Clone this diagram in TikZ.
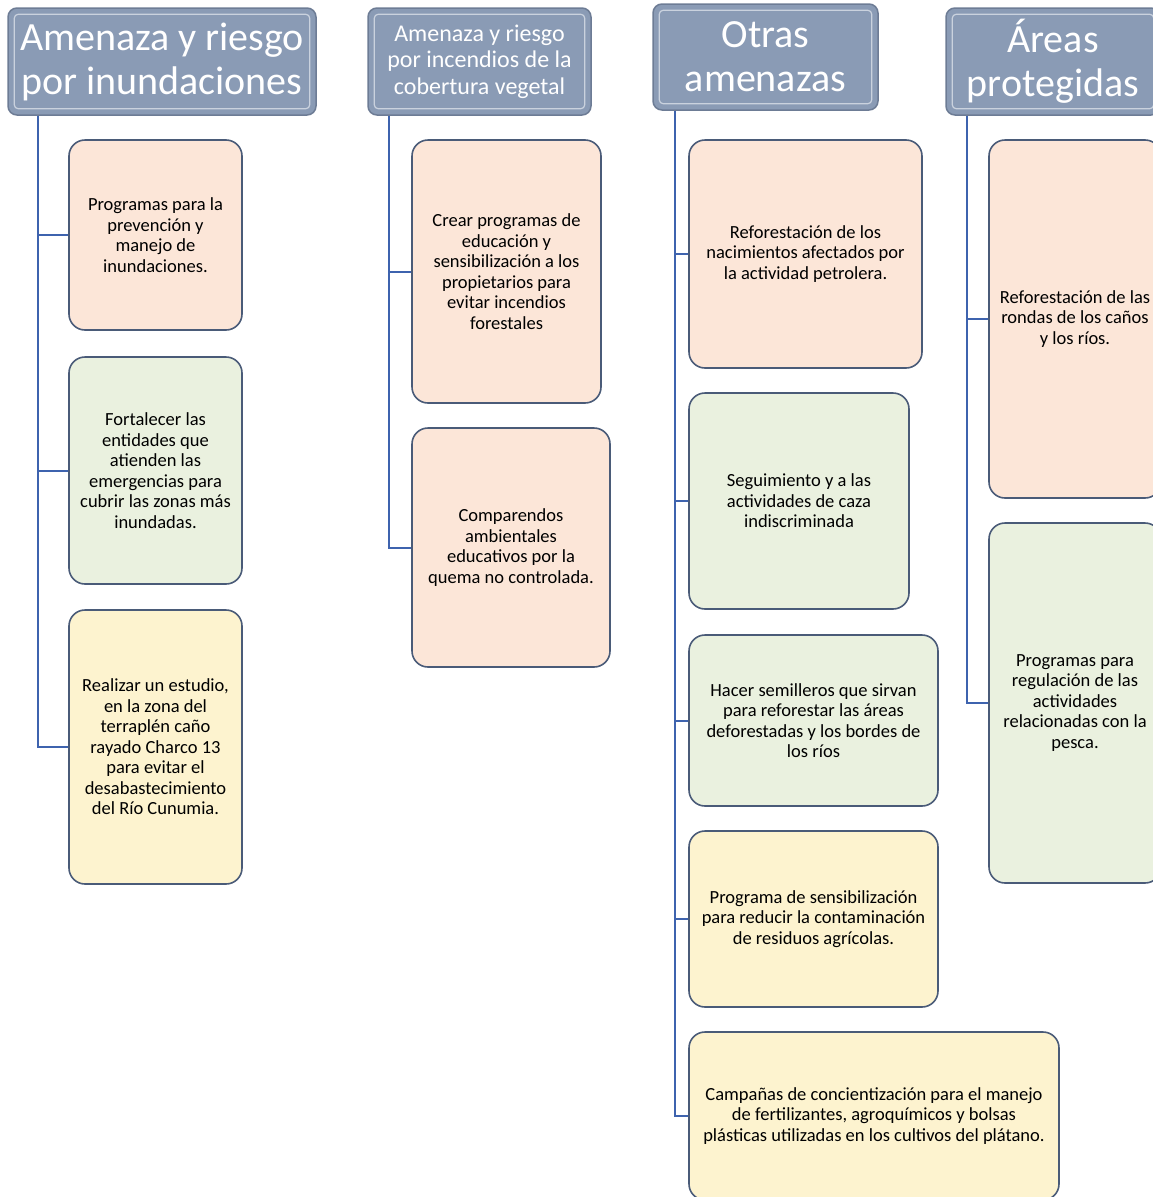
\documentclass[tikz,border=0pt]{standalone}
\usepackage{fontspec}
\setmainfont{Carlito}
\definecolor{hdrfill}{HTML}{8A9BB5}
\definecolor{hdrline}{HTML}{6D7C95}
\definecolor{conncol}{HTML}{3E63AE}
\definecolor{boxline}{HTML}{4A5B78}
\definecolor{peach}{HTML}{FCE6D8}
\definecolor{green}{HTML}{EAF1DF}
\definecolor{yell}{HTML}{FDF3CF}
\tikzset{
  hdr/.style={draw=hdrline, line width=1.5pt, fill=hdrfill, rounded corners=9pt, text=white, align=center, inner sep=0pt},
  hdrin/.style={draw=white!55!hdrfill, line width=1.2pt, rounded corners=4pt},
  cbox/.style={draw=boxline, line width=1.6pt, rounded corners=16pt, align=center, inner sep=0pt, text=black,
    font=\fontsize{18.5}{20.5}\selectfont},
  pbox/.style={cbox, fill=peach},
  gbox/.style={cbox, fill=green},
  ybox/.style={cbox, fill=yell},
  conn/.style={draw=conncol, line width=2pt},
  big/.style={font=\fontsize{40}{44}\selectfont},
}
\begin{document}
\begin{tikzpicture}[x=1pt,y=-1pt]
\useasboundingbox (0,0) rectangle (1153,1197);
\clip (0,0) rectangle (1153,1197);
% headers
\node[hdr, big, minimum width=308, minimum height=107] (h1) at (162,61.5) {Amenaza y riesgo\\por inundaciones};
\node[hdr, font=\fontsize{24}{26.5}\selectfont, minimum width=223, minimum height=107] (h2) at (479.5,61.5) {Amenaza y riesgo\\por incendios de la\\cobertura vegetal};
\node[hdr, big, minimum width=225, minimum height=106] (h3) at (765.5,57) {Otras\\amenazas};
\node[hdr, big, minimum width=214, minimum height=107] (h4) at (1053,61.5) {Áreas\\protegidas};
\foreach \h in {h1,h2,h3,h4}{
  \draw[hdrin] ([shift={(7,-7)}]\h.south west) rectangle ([shift={(-7,7)}]\h.north east);
}
% column 1
\node[pbox, minimum width=173, minimum height=190] (a1) at (155.5,235) {Programas para la\\prevención y\\manejo de\\inundaciones.};
\node[gbox, minimum width=173, minimum height=227] (a2) at (155.5,470.5) {Fortalecer las\\entidades que\\atienden las\\emergencias para\\cubrir las zonas más\\inundadas.};
\node[ybox, minimum width=173, minimum height=274] (a3) at (155.5,747) {Realizar un estudio,\\en la zona del\\terraplén caño\\rayado Charco 13\\para evitar el\\desabastecimiento\\del Río Cunumia.};
% column 2
\node[pbox, minimum width=189, minimum height=263] (b1) at (506.5,271.5) {Crear programas de\\educación y\\sensibilización a los\\propietarios para\\evitar incendios\\forestales};
\node[pbox, minimum width=198, minimum height=239] (b2) at (511,547.5) {Comparendos\\ambientales\\educativos por la\\quema no controlada.};
% column 3
\node[pbox, minimum width=233, minimum height=228] (c1) at (805.5,254) {Reforestación de los\\nacimientos afectados por\\la actividad petrolera.};
\node[gbox, minimum width=220, minimum height=216] (c2) at (799,501) {Seguimiento y a las\\actividades de caza\\indiscriminada};
\node[gbox, minimum width=249, minimum height=171] (c3) at (813.5,720.5) {Hacer semilleros que sirvan\\para reforestar las áreas\\deforestadas y los bordes de\\los ríos};
\node[ybox, minimum width=249, minimum height=176] (c4) at (813.5,919) {Programa de sensibilización\\para reducir la contaminación\\de residuos agrícolas.};
\node[ybox, minimum width=370, minimum height=168] (c5) at (874,1116) {Campañas de concientización para el manejo\\de fertilizantes, agroquímicos y bolsas\\plásticas utilizadas en los cultivos del plátano.};
% column 4
\node[pbox, minimum width=172, minimum height=358] (d1) at (1075,319) {Reforestación de las\\rondas de los caños\\y los ríos.};
\node[gbox, minimum width=172, minimum height=360] (d2) at (1075,703) {Programas para\\regulación de las\\actividades\\relacionadas con la\\pesca.};
% connectors
\foreach \t in {a1,a2,a3}{\draw[conn] ([xshift=31]h1.south west) |- (\t.west);}
\foreach \t in {b1,b2}{\draw[conn] ([xshift=22]h2.south west) |- (\t.west);}
\foreach \t in {c1,c2,c3,c4,c5}{\draw[conn] ([xshift=23]h3.south west) |- (\t.west);}
\foreach \t in {d1,d2}{\draw[conn] ([xshift=22]h4.south west) |- (\t.west);}
\end{tikzpicture}
\end{document}
